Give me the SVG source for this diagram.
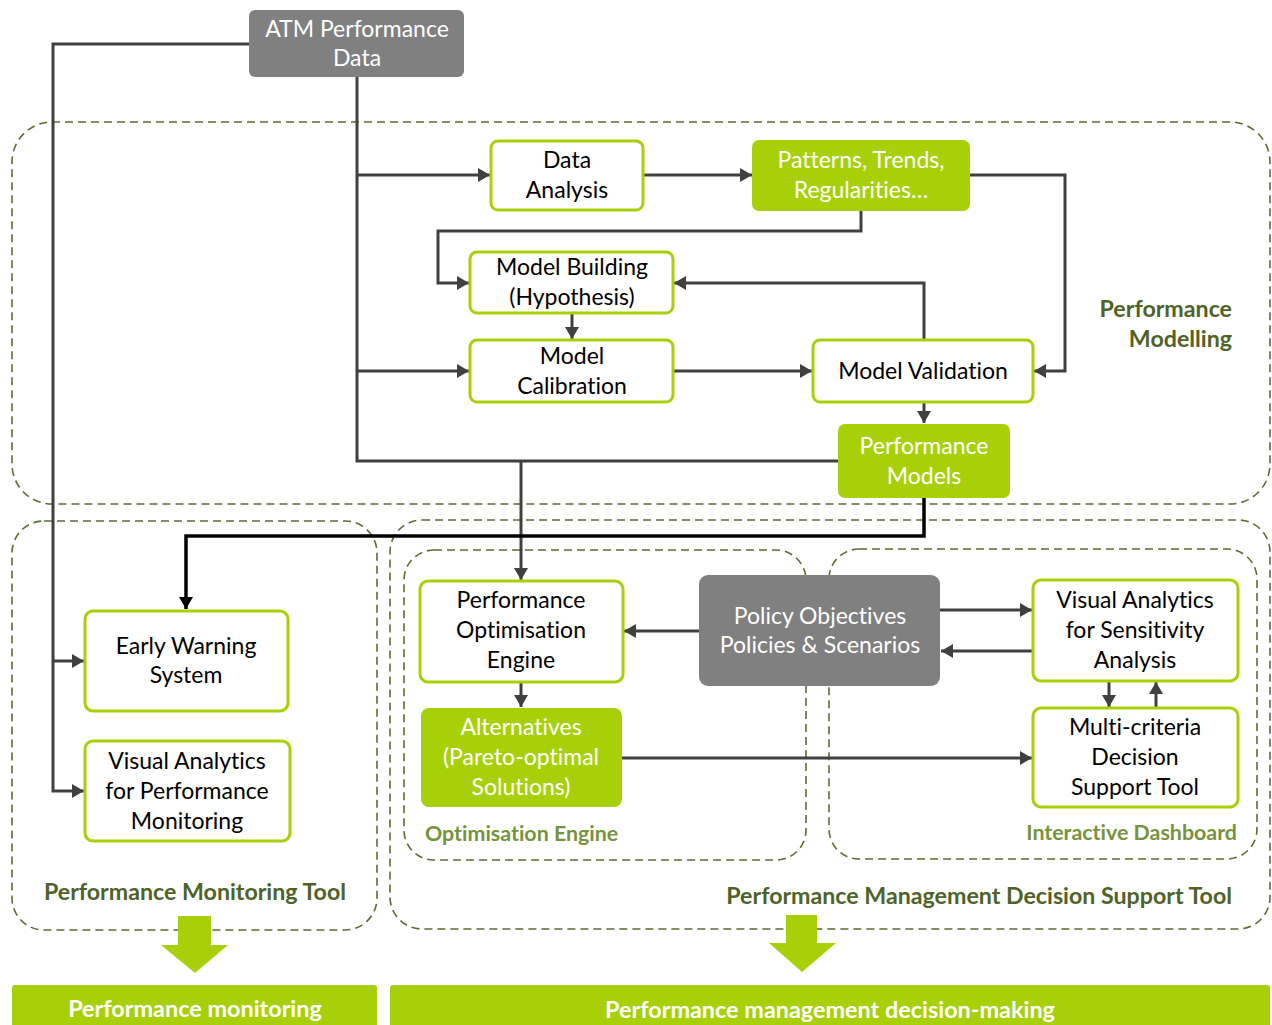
<svg xmlns="http://www.w3.org/2000/svg" width="1272" height="1025" viewBox="0 0 1272 1025">
<style>
text{font-family:Lato,"Liberation Sans",sans-serif;text-anchor:middle;font-variant-ligatures:none;}
.t{font-size:23px;fill:#000;}
.w{font-size:23px;fill:#fff;}
.ob{fill:#fff;stroke:#a8d008;stroke-width:3;}
.gb{fill:#a8d008;}
.gr{fill:#808080;}
.dash{fill:none;stroke:#5a6e32;stroke-width:1.6;stroke-dasharray:8 5;}
.lbl{font-size:23.2px;font-weight:bold;fill:#4f6228;}
.lbl2{font-size:21.4px;font-weight:bold;fill:#77933c;}
.c{fill:none;stroke:#404040;stroke-width:3;}
.cb{fill:none;stroke:#000;stroke-width:3.5;}
.bar{font-size:23.4px;font-weight:bold;fill:#fff;}
</style>
<defs>
<marker id="ah" markerUnits="userSpaceOnUse" markerWidth="14" markerHeight="14" refX="12" refY="7" orient="auto"><path d="M0,0 L12,7 L0,14 z" fill="#404040"/></marker>
<marker id="ahb" markerUnits="userSpaceOnUse" markerWidth="14" markerHeight="14" refX="12" refY="7" orient="auto"><path d="M0,0 L12,7 L0,14 z" fill="#000"/></marker>
</defs>

<g id="groups">
<rect class="dash" x="12" y="122" width="1258" height="382" rx="40"/>
<rect class="dash" x="12" y="521" width="365" height="409" rx="32"/>
<rect class="dash" x="390" y="520" width="880" height="409" rx="32"/>
<rect class="dash" x="404" y="550" width="402" height="310" rx="30"/>
<rect class="dash" x="829" y="549" width="428" height="310" rx="30"/>
<text class="lbl" x="1232" y="317" style="text-anchor:end">Performance</text>
<text class="lbl" x="1232" y="347" style="text-anchor:end">Modelling</text>
<text class="lbl" x="195" y="900">Performance Monitoring Tool</text>
<text class="lbl" x="1232" y="904" style="text-anchor:end">Performance Management Decision Support Tool</text>
<text class="lbl2" x="425" y="841" style="text-anchor:start">Optimisation Engine</text>
<text class="lbl2" x="1237" y="840" style="text-anchor:end">Interactive Dashboard</text>
</g>

<g id="connectors">
<path class="c" d="M249,44 H53 V791 H84" marker-end="url(#ah)"/>
<path class="c" d="M53,661 H84" marker-end="url(#ah)"/>
<path class="c" d="M357,77 V461 H838"/>
<path class="c" d="M357,175 H490" marker-end="url(#ah)"/>
<path class="c" d="M357,371 H469" marker-end="url(#ah)"/>
<path class="c" d="M521,461 V580" marker-end="url(#ah)"/>
<path class="c" d="M643,175 H752" marker-end="url(#ah)"/>
<path class="c" d="M861,210 V231 H438 V283 H469" marker-end="url(#ah)"/>
<path class="c" d="M969,175 H1065 V371 H1034" marker-end="url(#ah)"/>
<path class="c" d="M572,313 V339" marker-end="url(#ah)"/>
<path class="c" d="M673,371 H812" marker-end="url(#ah)"/>
<path class="c" d="M924,340 V283 H674" marker-end="url(#ah)"/>
<path class="c" d="M924,402 V423" marker-end="url(#ah)"/>
<path class="cb" d="M924,498 V536 H186 V609" marker-end="url(#ahb)"/>
<path class="c" d="M521,682 V707" marker-end="url(#ah)"/>
<path class="c" d="M699,631 H624" marker-end="url(#ah)"/>
<path class="c" d="M940,610 H1032" marker-end="url(#ah)"/>
<path class="c" d="M1033,651 H941" marker-end="url(#ah)"/>
<path class="c" d="M1109,681 V707" marker-end="url(#ah)"/>
<path class="c" d="M1156,708 V682" marker-end="url(#ah)"/>
<path class="c" d="M622,758 H1032" marker-end="url(#ah)"/>
</g>

<g id="atm"><rect class="gr" x="249" y="10" width="215" height="67" rx="6"/>
<text class="w" x="357" y="37">ATM Performance</text><text class="w" x="357" y="66">Data</text></g>

<g id="data-analysis"><rect class="ob" x="491" y="141" width="152" height="69" rx="7"/>
<text class="t" x="567" y="168">Data</text><text class="t" x="567" y="198">Analysis</text></g>

<g id="patterns"><rect class="gb" x="752" y="140" width="218" height="71" rx="7"/>
<text class="w" x="861" y="168">Patterns, Trends,</text><text class="w" x="861" y="198">Regularities…</text></g>

<g id="model-building"><rect class="ob" x="470" y="252" width="203" height="61" rx="7"/>
<text class="t" x="572" y="275">Model Building</text><text class="t" x="572" y="305">(Hypothesis)</text></g>

<g id="model-calibration"><rect class="ob" x="470" y="340" width="203" height="62" rx="7"/>
<text class="t" x="572" y="364">Model</text><text class="t" x="572" y="394">Calibration</text></g>

<g id="model-validation"><rect class="ob" x="813" y="340" width="220" height="62" rx="7"/>
<text class="t" x="923" y="379">Model Validation</text></g>

<g id="performance-models"><rect class="gb" x="838" y="424" width="172" height="74" rx="7"/>
<text class="w" x="924" y="454">Performance</text><text class="w" x="924" y="484">Models</text></g>

<g id="early-warning"><rect class="ob" x="85" y="611" width="203" height="100" rx="8"/>
<text class="t" x="186" y="654">Early Warning</text><text class="t" x="186" y="683">System</text></g>

<g id="va-monitoring"><rect class="ob" x="85" y="741" width="205" height="100" rx="8"/>
<text class="t" x="187" y="769">Visual Analytics</text><text class="t" x="187" y="799">for Performance</text><text class="t" x="187" y="829">Monitoring</text></g>

<g id="poe"><rect class="ob" x="420" y="581" width="203" height="101" rx="8"/>
<text class="t" x="521" y="608">Performance</text><text class="t" x="521" y="638">Optimisation</text><text class="t" x="521" y="668">Engine</text></g>

<g id="alternatives"><rect class="gb" x="421" y="708" width="201" height="99" rx="8"/>
<text class="w" x="521" y="735">Alternatives</text><text class="w" x="521" y="765">(Pareto-optimal</text><text class="w" x="521" y="795">Solutions)</text></g>

<g id="policy"><rect class="gr" x="699" y="575" width="241" height="111" rx="9"/>
<text class="w" x="820" y="624">Policy Objectives</text><text class="w" x="820" y="653">Policies &amp; Scenarios</text></g>

<g id="va-sensitivity"><rect class="ob" x="1033" y="580" width="205" height="101" rx="8"/>
<text class="t" x="1135" y="608">Visual Analytics</text><text class="t" x="1135" y="638">for Sensitivity</text><text class="t" x="1135" y="668">Analysis</text></g>

<g id="mcdst"><rect class="ob" x="1033" y="708" width="205" height="99" rx="8"/>
<text class="t" x="1135" y="735">Multi-criteria</text><text class="t" x="1135" y="765">Decision</text><text class="t" x="1135" y="795">Support Tool</text></g>

<g id="outcome-monitoring">
<path class="gb" d="M178,916 H211 V945 H228 L195,973 L161,945 H178 z"/>
<rect class="gb" x="12" y="985" width="365" height="45" rx="3"/>
<text class="bar" x="195" y="1017">Performance monitoring</text></g>

<g id="outcome-management">
<path class="gb" d="M786,915 H817 V943 H836 L802,972 L769,943 H786 z"/>
<rect class="gb" x="390" y="985" width="880" height="45" rx="3"/>
<text class="bar" x="830" y="1018">Performance management decision-making</text></g>
</svg>
